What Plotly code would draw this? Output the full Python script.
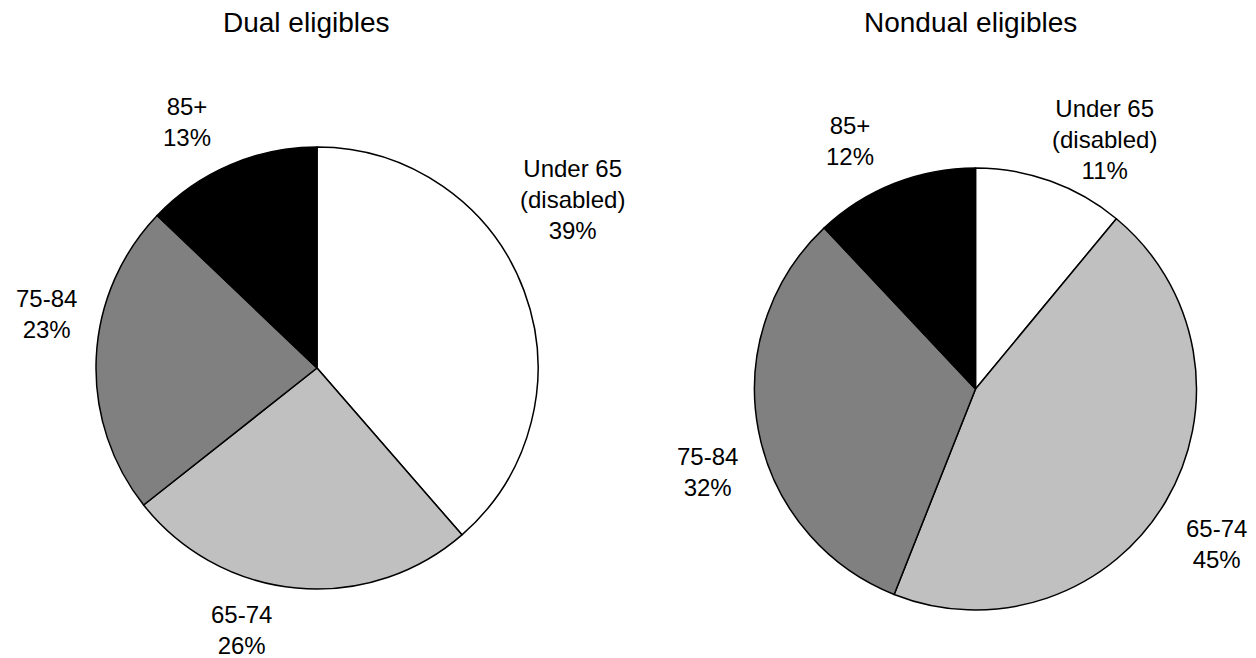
import plotly.graph_objects as go

categories = ["Under 65<br>(disabled)", "65-74", "75-84", "85+"]
dual_values = [39, 26, 23, 13]
nondual_values = [11, 45, 32, 12]
titles = ["Dual eligibles", "Nondual eligibles"]
colors = ["#FFFFFF", "#C0C0C0", "#808080", "#000000"]

# layout: label block centres in pixels (x from left, y from top), per pie, in category order
dual_label_pos = [(572, 199), (241, 630), (46, 314), (187, 122)]
nondual_label_pos = [(1104, 140), (1216, 544), (707, 472), (850, 141)]
title_pos = [(306, 23), (970, 23)]

W, H = 1256, 658
FONT = "Liberation Sans, Arial, sans-serif"

def dom(x0, x1, ytop, ybot):
    return dict(x=[x0 / W, x1 / W], y=[1 - ybot / H, 1 - ytop / H])

common = dict(
    labels=categories,
    sort=False,
    direction="clockwise",
    rotation=0,
    marker=dict(colors=colors, line=dict(color="black", width=1.5)),
    textinfo="none",
    showlegend=False,
    hoverinfo="label+value",
)

fig = go.Figure()
fig.add_trace(go.Pie(values=dual_values, domain=dom(96, 538, 147, 589), **common))
fig.add_trace(go.Pie(values=nondual_values, domain=dom(754, 1197, 168, 610), **common))

annotations = []
for (tx, ty), t in zip(title_pos, titles):
    annotations.append(dict(text=t, x=tx / W, y=1 - ty / H, xref="paper", yref="paper",
                            xanchor="center", yanchor="middle", showarrow=False,
                            font=dict(family=FONT, size=28, color="black")))
for vals, poss in ((dual_values, dual_label_pos), (nondual_values, nondual_label_pos)):
    for cat, v, (px, py) in zip(categories, vals, poss):
        annotations.append(dict(text=f"{cat}<br>{v}%", x=px / W, y=1 - py / H,
                                xref="paper", yref="paper", xanchor="center",
                                yanchor="middle", align="center", showarrow=False,
                                font=dict(family=FONT, size=24, color="black")))

fig.update_layout(
    width=W, height=H,
    margin=dict(l=0, r=0, t=0, b=0),
    paper_bgcolor="white",
    plot_bgcolor="white",
    font=dict(family=FONT, size=24, color="black"),
    annotations=annotations,
)

fig.write_html("out.html")
